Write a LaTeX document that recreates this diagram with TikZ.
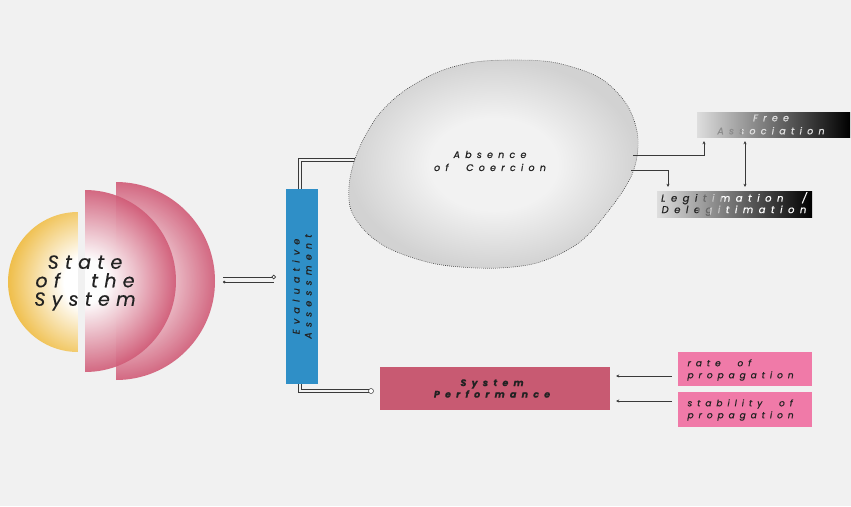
\documentclass[tikz,border=0pt]{standalone}
\usepackage{fontspec}
\setmainfont{Poppins}
\newfontfamily\statefont{Poppins}[LetterSpace=33, WordSpace=2.6, FakeBold=0.4]
\newfontfamily\labelfont{Poppins}[LetterSpace=55, WordSpace=2.2, FakeBold=0.7]
\usetikzlibrary{arrows.meta}

\definecolor{paper}{HTML}{F1F1F1}
\definecolor{sunyellow}{HTML}{EFBE4A}
\definecolor{rose}{HTML}{D05A76}
\definecolor{assessblue}{HTML}{2F8FC7}
\definecolor{perfrose}{HTML}{C85A72}
\definecolor{hotpink}{HTML}{F07AA8}
\definecolor{inkline}{HTML}{3A3A3A}
\definecolor{inktext}{HTML}{222222}
\definecolor{eggedge}{HTML}{D2D2D2}
\definecolor{eggcore}{HTML}{F2F2F2}

\pgfdeclareradialshading{sunglow}{\pgfpoint{0bp}{0bp}}{%
  color(0bp)=(white); color(8bp)=(white); color(25bp)=(sunyellow); color(50bp)=(sunyellow)}
\pgfdeclareradialshading{roseglow}{\pgfpoint{0bp}{0bp}}{%
  color(0bp)=(white); color(6bp)=(white); color(25bp)=(rose); color(50bp)=(rose)}
\pgfdeclareradialshading{egggray}{\pgfpoint{0bp}{0bp}}{%
  color(0bp)=(eggcore); color(11bp)=(eggcore); color(25bp)=(eggedge); color(50bp)=(eggedge)}

\tikzset{
  thinline/.style={draw=inkline, line width=0.7pt},
  dbl/.style={draw=inkline, line width=0.8pt, double=paper, double distance=2.2pt},
  arr/.style={thinline, -{Stealth[length=3.2pt,width=3pt]}},
  plainbox/.style={inner sep=0pt, outer sep=0pt},
  pinkbox/.style={plainbox, fill=hotpink, minimum width=134pt, minimum height=34pt},
  pinktext/.style={font=\labelfont\itshape\fontsize{9}{12}\selectfont, text=inktext, align=left},
  darkbox/.style={plainbox, shade, left color=paper!92!black, right color=black},
  freetext/.style={font=\labelfont\itshape\fontsize{9.5}{13}\selectfont, align=center},
  legtext/.style={font=\labelfont\itshape\fontsize{10}{11.5}\selectfont, align=center},
}

\begin{document}
\begin{tikzpicture}[x=1pt,y=-1pt]
\fill[paper] (0,0) rectangle (851,506);
\useasboundingbox (0,0) rectangle (851,506);

% ---- state of the system: three half discs ----
\begin{scope}
  \clip (116,182) arc[start angle=90,end angle=-90,radius=99pt] -- cycle;
  \shade[shading=roseglow, opacity=0.9] (116,281) circle (99pt);
\end{scope}
\begin{scope}
  \clip (85,190) arc[start angle=90,end angle=-90,radius=91pt] -- cycle;
  \shade[shading=roseglow, opacity=0.9] (85,281) circle (91pt);
\end{scope}
\begin{scope}
  \clip (78,212) arc[start angle=90,end angle=270,radius=70pt] -- cycle;
  \shade[shading=sunglow] (90,282) circle (82pt);
\end{scope}
\node[font=\statefont\itshape\fontsize{19}{18.5}\selectfont, text=inktext, align=center]
  (sos) at (85,283) {State\\of the\\System};

% links from the state to the assessment bar
\coordinate (sosA) at (223,277);
\coordinate (evA)  at (276,277);
\coordinate (sosB) at (223,282);
\coordinate (evB)  at (274,282);
\draw[thinline, -{Circle[open, length=4.5pt, fill=white]}] (sosA) -- (evA);
\draw[thinline, {Circle[length=2.6pt]}-] (sosB) -- (evB);

% ---- evaluative assessment bar ----
\node[plainbox, fill=assessblue, rotate=90, minimum width=195pt, minimum height=32pt,
      font=\labelfont\itshape\fontsize{9.5}{12}\selectfont, text=inktext, align=center]
  (eval) at (302,286.5) {Evaluative\\Assessment};

\coordinate (evtop) at (300,189);
\coordinate (evtopbend) at (300,160);
\coordinate (eggin) at (357,160);
\draw[dbl] (evtop) -- (evtopbend) -- (eggin);
\draw[inkline, line width=0.5pt, fill=white] (eggin) circle (2.5pt);

\coordinate (evbot) at (300,384);
\coordinate (evbotbend) at (300,391);
\coordinate (perfin) at (371,391);
\draw[dbl] (evbot) -- (evbotbend) -- (perfin);
\draw[inkline, line width=0.5pt, fill=white] (perfin) circle (2.5pt);

% ---- absence of coercion ----
\path[shade, shading=egggray, draw=inkline, line width=0.6pt, dash pattern=on 0.7pt off 1.3pt]
  plot[smooth cycle, tension=0.55] coordinates {
    (518,60) (557,63) (600,78) (627,105) (638,138) (633,172) (613,205)
    (580,242) (540,262) (500,268) (460,267) (427,262) (390,249) (366,232)
    (351,210) (349,186) (354,162) (364,138) (380,113) (404,91) (438,72) (475,62)};
\node[font=\labelfont\itshape\fontsize{9.5}{13}\selectfont, text=inktext, align=center]
  (absence) at (490,161) {Absence\\of Coercion};

% ---- free association ----
\node[darkbox, minimum width=153pt, minimum height=25pt] (free) at (773.5,124.5) {};
\begin{scope}
  \clip (690,105) rectangle (742,145);
  \node[freetext, text=white!55!black] (freeA) at (771,124.5) {Free\\Association};
\end{scope}
\begin{scope}
  \clip (742,105) rectangle (851,145);
  \node[freetext, text=white!88!black] (freeB) at (771,124.5) {Free\\Association};
\end{scope}

% ---- legitimation / delegitimation ----
\node[darkbox, minimum width=155pt, minimum height=26pt] (legit) at (734.5,204) {};
\begin{scope}
  \clip (650,185) rectangle (698,222);
  \node[legtext, text=inktext] (legitA) at (734,204) {Legitimation /\\Delegitimation};
\end{scope}
\begin{scope}
  \clip (698,185) rectangle (710,222);
  \node[legtext, text=white!40!black] (legitB) at (734,204) {Legitimation /\\Delegitimation};
\end{scope}
\begin{scope}
  \clip (710,185) rectangle (722,222);
  \node[legtext, text=white!78!black] (legitC) at (734,204) {Legitimation /\\Delegitimation};
\end{scope}
\begin{scope}
  \clip (722,185) rectangle (820,222);
  \node[legtext, text=white] (legitD) at (734,204) {Legitimation /\\Delegitimation};
\end{scope}

\coordinate (eggoutA) at (633,155);
\coordinate (eggoutB) at (631,170);
\draw[arr] (eggoutA) -| ([xshift=-69.5pt, yshift=-4pt]free.south);
\draw[arr] (eggoutB) -| ([xshift=-66.5pt, yshift=4pt]legit.north);
\draw[thinline, {Stealth[length=3.2pt,width=3pt]}-{Stealth[length=3.2pt,width=3pt]}]
  ([xshift=-28.5pt, yshift=-4pt]free.south) -- ([xshift=10.5pt, yshift=4pt]legit.north);

% ---- system performance and its inputs ----
\node[plainbox, fill=perfrose, minimum width=230pt, minimum height=43pt] (perf) at (495,388.5) {};
\node[font=\labelfont\itshape\bfseries\fontsize{9.5}{11.5}\selectfont, text=inktext, align=center]
  (perfT) at (492,388.5) {System\\Performance};

\node[pinkbox] (rate) at (745,369) {};
\node[pinktext, anchor=west] (rateT) at (684,370) {rate of\\propagation};
\node[pinkbox, minimum height=35pt] (stab) at (745,409.5) {};
\node[pinktext, anchor=west] (stabT) at (684,410) {stability of\\propagation};

\draw[arr] ([shift={(-6pt,-7pt)}]rate.west) -- ([shift={(6pt,12.5pt)}]perf.east);
\draw[arr] ([shift={(-6pt,8.5pt)}]stab.west) -- ([shift={(6pt,-12.5pt)}]perf.east);
\end{tikzpicture}
\end{document}
